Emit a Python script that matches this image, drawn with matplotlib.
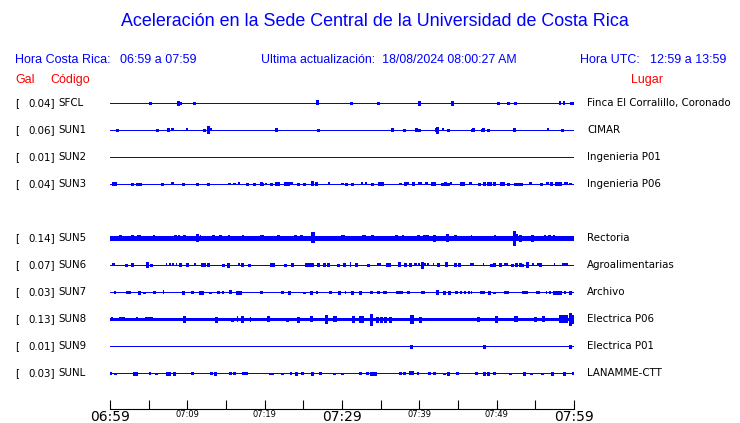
import matplotlib
matplotlib.use("Agg")
import matplotlib.pyplot as plt
from matplotlib import transforms

# estaciones, aceleracion maxima (Gal) y lugar; SUN4 sin datos
codes = ["SFCL", "SUN1", "SUN2", "SUN3", "SUN4", "SUN5", "SUN6", "SUN7", "SUN8", "SUN9", "SUNL"]
gal = [0.04, 0.06, 0.01, 0.04, None, 0.14, 0.07, 0.03, 0.13, 0.01, 0.03]
places = ["Finca El Corralillo, Coronado", "CIMAR", "Ingenieria P01", "Ingenieria P06", None,
          "Rectoria", "Agroalimentarias", "Archivo", "Electrica P06", "Electrica P01", "LANAMME-CTT"]
noise = [0.5, 0.5, 0.5, 0.5, 0, 1.6, 0.5, 0.5, 1.3, 0.5, 0.5]

events = {
    "SFCL": [(5.2, 1, 0), (8.8, 2, 0), (9.1, 1, 0), (10.9, 1, 0), (26.85, 2.5, 0.4), (31.1, 1, 0),
             (34.6, 1, 0), (39.9, 2, 0), (44.2, 2, 0), (50.2, 1, 0), (51.5, 1, 0), (52.4, 1, 0),
             (58.2, 2, 0.25), (58.7, 2, 0.25), (59.6, 1, 0), (59.8, 1, 0)],
    "SUN1": [(0.86, 1, 0), (6.12, 1, 0), (7.46, 1.5, 0), (8.1, 1.5, 0.3), (9.91, 1.5, 0.25),
             (12.11, 1, 0), (12.71, 3.5, 0), (12.85, 1.5, 0.3), (13.15, 1.5, 0.2), (21.5, 1.5, 0),
             (26.94, 1, 0), (36.5, 1.5, 0), (38.06, 1, 0), (39.6, 1.5, 0), (39.95, 1, 0),
             (42.1, 1.5, 0), (42.32, 3, 0), (43.06, 1.5, 0.25), (43.75, 1, 0), (46.76, 1, 0),
             (46.98, 1.5, 0), (48.06, 1, 0), (48.27, 1.5, 0), (48.92, 1, 0), (52.28, 1.5, 0),
             (56.59, 1.5, 0.25), (58.49, 1, 0)],
    "SUN2": [],
    "SUN3": [(0.43, 1.5, 0), (0.65, 1.5, 0), (2.89, 1, 0), (3.53, 1, 0), (3.92, 1, 0), (6.77, 1, 0),
             (8.06, 1.5, 0.45), (9.48, 1, 0), (11.29, 1, 0), (12.63, 1, 0), (15.43, 0.5, 0),
             (15.99, 0.5, 0), (16.72, 1.5, 0.25), (17.67, 1, 0), (18.66, 1, 0), (19.52, 1.5, 0),
             (19.7, 1, 0), (20.17, 1, 0.2), (20.82, 1, 0), (21.42, 1.5, 0), (21.68, 1.5, 0),
             (22.63, 1.5, 0), (22.97, 1.5, 0), (23.45, 1.5, 0.35), (24.26, 1, 0), (25.04, 1, 0),
             (26.16, 2.5, 0.35), (26.68, 1.5, 0), (28.32, 1.5, 0.35), (29.95, 0.5, 0), (30.47, 1, 0),
             (31.33, 1, 0), (32.54, 1.5, 0.25), (33.06, 1.5, 0.25), (33.83, 1, 0), (34.78, 1.5, 0),
             (35.13, 1.5, 0), (37.45, 0.5, 0), (38.14, 1.5, 0), (38.49, 1.5, 0.3), (39.22, 1.5, 0),
             (40.08, 1.5, 0.6), (40.9, 1.5, 0.35), (41.59, 1.5, 0), (41.85, 1.5, 0), (42.97, 1, 0),
             (43.32, 1.5, 0), (43.66, 1, 0), (44.13, 1.5, 0.3), (45.38, 1.5, 0), (45.64, 1.5, 0),
             (46.63, 1.5, 0.45), (47.71, 1, 0), (48.31, 1.5, 0), (48.92, 1.5, 0), (49.17, 1.5, 0),
             (49.69, 1.5, 0), (50.56, 1.5, 0), (50.81, 1.5, 0), (51.42, 1, 0), (52.37, 1, 0),
             (52.8, 1, 0), (53.14, 1, 0), (54.35, 1.5, 0.35), (55.73, 1, 0), (56.59, 1.5, 0.3),
             (57.02, 1.5, 0), (57.62, 1.5, 0), (57.88, 1.5, 0), (58.14, 1.5, 0), (59.0, 1.5, 0.5),
             (59.52, 0.5, 0)],
    "SUN5": [(1.25, 2.5, 0), (2.8, 2.5, 0), (3.75, 2.5, 0.5), (5.73, 2.5, 0.3), (7.11, 2, 0),
             (8.4, 2.5, 0), (8.92, 2.5, 0.2), (9.52, 2.5, 0), (11.25, 3.5, 0), (11.68, 2.5, 0.2),
             (13.32, 2.5, 0), (14.26, 2.5, 0), (15.38, 2.5, 0.2), (17.2, 2.5, 0.2), (19.6, 2.5, 0.5),
             (21.76, 2.5, 0), (24.0, 2.5, 0.3), (24.7, 2.5, 0), (26.25, 5.5, 0.6), (30.13, 3, 0.4),
             (32.8, 3, 0.5), (33.83, 2.5, 0), (36.25, 2, 0), (36.94, 2.5, 0), (37.88, 3, 0.2),
             (39.87, 2.5, 0), (40.56, 2.5, 0), (40.99, 2.5, 0), (41.85, 3, 0), (43.66, 4, 0.4),
             (44.6, 2.5, 0), (46.76, 2.5, 0.2), (49.78, 2.5, 0.2), (52.28, 7, 0), (52.5, 3.5, 0.4),
             (52.97, 3, 0), (54.52, 3, 0), (56.24, 2.5, 0.3), (56.85, 2.5, 0.3), (57.45, 2.5, 0.3)],
    "SUN6": [(0.43, 1.5, 0.4), (2.11, 1, 0), (2.8, 1.5, 0), (4.78, 2.5, 0), (5.3, 1, 0),
             (7.33, 1.5, 0.2), (7.76, 1.5, 0.2), (8.19, 1.5, 0.3), (8.62, 1.5, 0.2), (9.09, 1.5, 0),
             (9.96, 1.5, 0), (10.99, 1.5, 0.3), (11.85, 1.5, 0), (12.11, 1.5, 0), (12.71, 1.5, 0),
             (14.65, 1, 0), (15.3, 2, 0), (16.68, 1.5, 0.2), (17.11, 1.5, 0), (17.97, 1, 0),
             (21.03, 2, 0.6), (22.63, 1, 0), (23.49, 1.5, 0), (25.3, 1.5, 0), (25.73, 1.5, 0),
             (26.16, 1.5, 0), (26.94, 1.5, 0), (27.63, 1.5, 0), (28.14, 1.5, 0), (29.52, 1, 0),
             (30.21, 1.5, 0), (31.07, 2.5, 0.2), (31.76, 1.5, 0), (33.31, 1, 0), (34.78, 1.5, 0.4),
             (35.82, 1.5, 0), (36.07, 1.5, 0), (37.45, 2.5, 0.35), (38.14, 1.5, 0), (38.75, 1.5, 0),
             (39.52, 1.5, 0.3), (39.95, 1.5, 0.2), (40.3, 3, 0), (40.73, 1.5, 0.3), (41.16, 1.5, 0.3),
             (41.81, 1.5, 0.2), (42.45, 1.5, 0), (43.49, 2.5, 0.4), (44.6, 1.5, 0), (45.13, 1.5, 0),
             (46.76, 1.5, 0.5), (48.31, 1.5, 0.2), (49.26, 1, 0), (49.69, 1.5, 0), (50.38, 1.5, 0),
             (51.16, 1.5, 0.5), (51.94, 1, 0), (52.45, 1.5, 0), (52.97, 1.5, 0), (53.23, 1, 0),
             (53.92, 2.5, 0), (54.74, 1.5, 0.3), (55.38, 1.5, 0.2), (55.64, 1.5, 0),
             (57.45, 1.5, 0.2), (58.83, 1.5, 0.8)],
    "SUN7": [(0.65, 1.5, 0.2), (2.37, 1.5, 0.6), (3.75, 1.5, 0), (4.44, 0.5, 0), (5.65, 1, 0),
             (6.94, 2, 0.2), (9.44, 1.5, 0), (10.65, 1.5, 0.3), (11.68, 1.5, 0), (11.94, 1.5, 0),
             (12.97, 0.5, 0), (14.0, 1, 0), (14.61, 1.5, 0.3), (15.56, 2, 0.4), (16.42, 1.5, 0),
             (16.85, 1.5, 0), (19.6, 1.5, 0.3), (22.2, 1, 0), (23.1, 1.5, 0), (25.04, 0.5, 0),
             (25.99, 1.5, 0), (26.77, 1.5, 0.35), (28.4, 1, 0), (29.6, 1.5, 0), (30.47, 1.5, 0.2),
             (31.25, 1.5, 0), (32.28, 1.5, 0), (33.83, 1.5, 0.4), (34.6, 1, 0), (35.6, 1.5, 0.5),
             (37.45, 1.5, 0.9), (38.57, 1, 0), (40.47, 1.5, 0.4), (42.28, 2, 0), (43.14, 1.5, 0),
             (43.83, 1.5, 0), (44.82, 1.5, 0.3), (45.38, 1.5, 0.3), (45.9, 1.5, 0.3),
             (46.42, 1.5, 0.3), (46.76, 1.5, 0.2), (48.14, 1.5, 0.6), (49.0, 1.5, 0), (49.6, 0.5, 0),
             (51.25, 1.5, 0.6), (53.66, 1.5, 0.8), (55.34, 1.5, 0.5), (56.42, 1.5, 0.2),
             (56.93, 1.5, 0.2), (57.37, 1.5, 0), (57.8, 1.5, 0), (58.23, 1.5, 0), (58.83, 1.5, 0.2),
             (59.43, 1.5, 0)],
    "SUN8": [(0.22, 2, 0.3), (1.5, 2, 0.8), (3.5, 2, 0.3), (5.0, 2, 1.0), (9.52, 3, 0),
             (13.75, 2.5, 0), (15.73, 1.5, 0), (16.5, 3, 0.2), (17.11, 3, 0), (18.14, 2.5, 0.2),
             (20.47, 3, 0.4), (22.88, 1.5, 0), (24.35, 2.5, 0), (26.07, 3, 0.3), (27.88, 4, 0),
             (29.09, 3, 0.6), (31.5, 3.5, 0.4), (32.54, 3.5, 0.6), (33.75, 5.5, 0), (34.48, 2.5, 0),
             (35.04, 2.5, 0), (35.56, 2.5, 0), (36.25, 2.5, 0), (39.0, 4.5, 0.5), (40.04, 2.5, 0),
             (47.54, 2, 0), (49.95, 3, 0), (52.54, 3, 0.5), (54.95, 2, 0), (56.07, 3, 0.4),
             (58.66, 4, 1.2), (59.52, 6, 0), (59.87, 4, 0)],
    "SUN9": [(38.92, 1.5, 0), (48.4, 1.5, 0), (59.48, 1.5, 0)],
    "SUNL": [(0.13, 1.5, 0.25), (0.65, 0.5, 0), (3.06, 1.5, 0), (3.32, 1.5, 0), (5.22, 1.5, 0.25),
             (5.99, 0.5, 0), (7.37, 1.5, 0), (7.63, 1.5, 0), (8.32, 1.5, 0), (10.56, 1, 0),
             (13.06, 1, 0), (13.58, 1.5, 0), (15.47, 1, 0), (16.08, 1, 0), (17.45, 1.5, 0.8),
             (20.64, 0.5, 0), (20.99, 0.5, 0), (22.2, 0.5, 0), (23.4, 1.5, 0.25), (24.0, 1.5, 0),
             (24.78, 1, 0), (26.07, 1.5, 0), (27.19, 1, 0), (29.0, 0.5, 0), (29.95, 0.5, 0),
             (32.45, 1.5, 0.4), (33.23, 1, 0), (33.75, 1.5, 0), (34.0, 1.5, 0), (34.26, 1.5, 0),
             (37.45, 1, 0), (37.97, 1, 0), (39.0, 2, 0.6), (39.87, 1.5, 0.25), (41.25, 1, 0),
             (41.94, 1, 0), (43.23, 0.5, 0), (43.66, 1.5, 0), (44.95, 1.5, 0.3), (47.28, 1, 0),
             (48.31, 1.5, 0), (48.83, 1.5, 0), (49.69, 1, 0), (51.76, 0.5, 0), (53.57, 1.5, 0),
             (54.43, 0.5, 0), (55.82, 0.5, 0), (57.11, 1.5, 0), (58.66, 1.5, 0), (59.87, 1, 0)],
}

tick_minutes = list(range(0, 61, 5))
tick_text = {0: "06:59", 10: "07:09", 20: "07:19", 30: "07:29", 40: "07:39", 50: "07:49", 60: "07:59"}
big_ticks = [0, 30, 60]

BLUE = "#0000ff"
RED = "#ff0000"
W, H = 740, 423

fig = plt.figure(figsize=(W / 100, H / 100), dpi=100)
ax = fig.add_axes([110 / W, 1 - 409 / H, 464 / W, 319 / H])
ax.set_xlim(0, 60)
ax.set_ylim(11.333, -0.481)
px = 1 / 27  # amplitude unit -> row units

for i, code in enumerate(codes):
    if gal[i] is None:
        continue
    ax.hlines(i, 0, 60, color=BLUE, lw=max(0.6, 2 * noise[i] * 0.72), antialiased=False)
    ev = events[code]
    spikes = [e for e in ev if e[2] == 0]
    blocks = [e for e in ev if e[2] > 0]
    if spikes:
        ax.vlines([e[0] for e in spikes], [i - e[1] * px for e in spikes],
                  [i + e[1] * px for e in spikes], color=BLUE, lw=0.75, antialiased=False)
    if blocks:
        ax.bar([e[0] for e in blocks], [2 * e[1] * px for e in blocks],
               width=[e[2] for e in blocks], bottom=[i - e[1] * px for e in blocks],
               color=BLUE, lw=0, antialiased=False)

# eje de tiempo
for s in ["left", "top", "right"]:
    ax.spines[s].set_visible(False)
ax.spines["bottom"].set_linewidth(0.8)
ax.set_yticks([])
ax.set_xticks(tick_minutes)
ax.set_xticklabels([tick_text.get(m, "") for m in tick_minutes])
ax.tick_params(axis="x", direction="in", length=6.5, width=0.8, pad=1)
for m, lab in zip(tick_minutes, ax.get_xticklabels()):
    lab.set_fontsize(10 if m in big_ticks else 6)

# etiquetas por estacion
lab_tr = transforms.blended_transform_factory(fig.transFigure, ax.transData)
for i, code in enumerate(codes):
    if gal[i] is None:
        continue
    ax.text(15 / W, i, "[", transform=lab_tr, fontsize=7.4, va="center", ha="left")
    ax.text(55 / W, i, f"{gal[i]:.2f}]", transform=lab_tr, fontsize=7.4, va="center", ha="right")
    ax.text(58 / W, i, code, transform=lab_tr, fontsize=7.4, va="center", ha="left")
    ax.text(587 / W, i, places[i], transform=lab_tr, fontsize=7.4, va="center", ha="left")

# encabezado
hfont = dict(family="Liberation Sans", va="center")
fig.text(375 / W, 1 - 22 / H, "Aceleración en la Sede Central de la Universidad de Costa Rica",
         ha="center", fontsize=12.9, color=BLUE, **hfont)
fig.text(15 / W, 1 - 60 / H, "Hora Costa Rica:", fontsize=9, color=BLUE, **hfont)
fig.text(120 / W, 1 - 60 / H, "06:59 a 07:59", fontsize=9, color=BLUE, **hfont)
fig.text(261 / W, 1 - 60 / H, "Ultima actualización:  18/08/2024 08:00:27 AM", fontsize=8.9, color=BLUE, **hfont)
fig.text(580 / W, 1 - 60 / H, "Hora UTC:", fontsize=9, color=BLUE, **hfont)
fig.text(650 / W, 1 - 60 / H, "12:59 a 13:59", fontsize=9, color=BLUE, **hfont)
fig.text(15 / W, 1 - 80 / H, "Gal", fontsize=9, color=RED, **hfont)
fig.text(50 / W, 1 - 80 / H, "Código", fontsize=9, color=RED, **hfont)
fig.text(631 / W, 1 - 80 / H, "Lugar", fontsize=9, color=RED, **hfont)

fig.savefig("out.png", dpi=100)
